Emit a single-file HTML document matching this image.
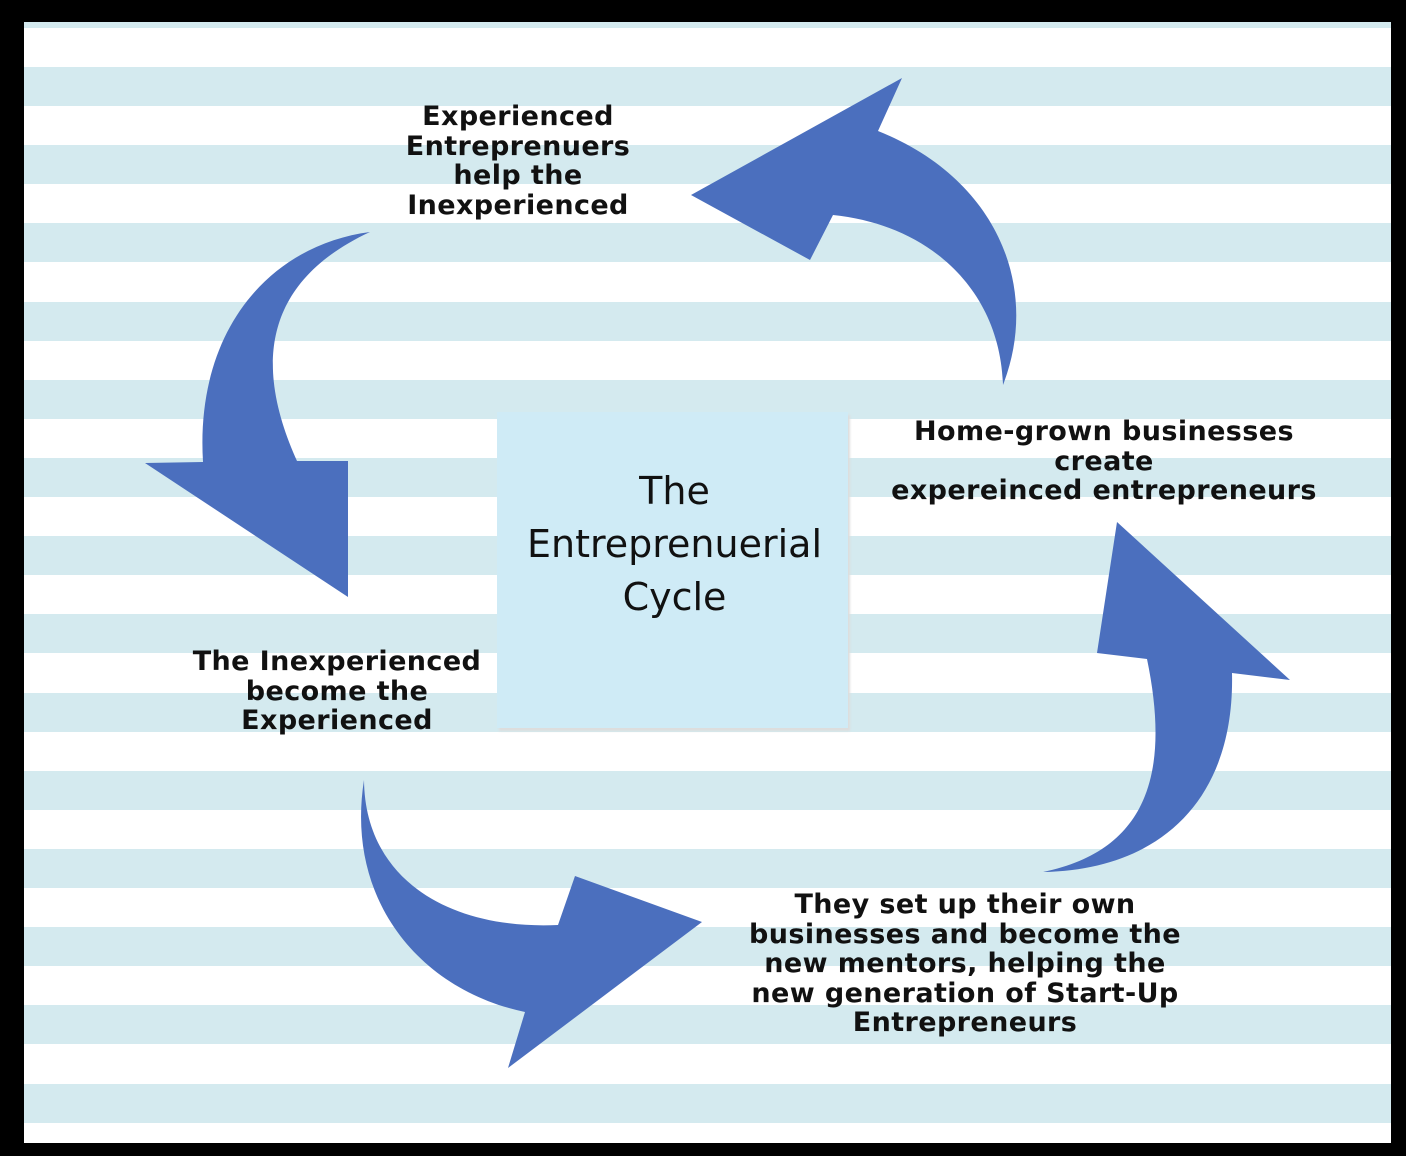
<!DOCTYPE html>
<html><head><meta charset="utf-8"><style>
html,body{margin:0;padding:0;background:#000;}
#c{position:relative;width:1406px;height:1156px;background:#000;overflow:hidden;}
#in{position:absolute;left:24px;top:22px;width:1367px;height:1121px;background:#fff;overflow:hidden;}
.s{position:absolute;left:0;width:1367px;height:39px;background:#d4eaef;}
.box{position:absolute;left:497px;top:412px;width:351px;height:316px;background:#cfebf6;box-shadow:2px 3px 2px #ddd;}
.bt{position:absolute;left:497px;top:465px;width:355px;text-align:center;font-family:"DejaVu Sans","Liberation Sans",sans-serif;font-size:38px;line-height:53px;color:#111;}
.l{position:absolute;font-family:"DejaVu Sans","Liberation Sans",sans-serif;font-weight:bold;font-size:27px;letter-spacing:0.4px;line-height:29.6px;text-align:center;color:#111;white-space:nowrap;}
svg{position:absolute;left:0;top:0;}
</style></head><body><div id="c">
<div id="in">
<div class="s" style="top:0;height:6px"></div>
<div class="s" style="top:45px"></div>
<div class="s" style="top:123.2px"></div>
<div class="s" style="top:201.4px"></div>
<div class="s" style="top:279.6px"></div>
<div class="s" style="top:357.8px"></div>
<div class="s" style="top:436px"></div>
<div class="s" style="top:514.2px"></div>
<div class="s" style="top:592.4px"></div>
<div class="s" style="top:670.6px"></div>
<div class="s" style="top:748.8px"></div>
<div class="s" style="top:827px"></div>
<div class="s" style="top:905.2px"></div>
<div class="s" style="top:983.4px"></div>
<div class="s" style="top:1061.6px"></div>
</div>
<div class="box"></div>
<div class="bt">The<br>Entreprenuerial<br>Cycle</div>
<svg width="1406" height="1156">
<g fill="#4b6fbe">
<path d="M1003,385 C1040,290 1000,180 878,131 L902,78 L691,195 L810,260 L833,215 C930,225 1000,290 1003,385 Z"/>
<path d="M370,232 C270,245 195,330 203,462 L145,463 L348,597 L348,461 L297,461 C265,390 245,290 370,232 Z"/>
<path d="M364,780 C345,900 420,990 525,1012 L508,1068 L702,922 L575,876 L558,925 C450,930 365,880 364,780 Z"/>
<path d="M1043,872 C1160,870 1235,800 1232,673 L1290,680 L1117,522 L1097,653 L1147,659 C1170,770 1150,850 1043,872 Z"/>
</g></svg>
<div class="l" style="left:318px;width:400px;top:102px;">Experienced<br>Entreprenuers<br>help the<br>Inexperienced</div>
<div class="l" style="left:854px;width:500px;top:417px;">Home-grown businesses<br>create<br>expereinced entrepreneurs</div>
<div class="l" style="left:137px;width:400px;top:647px;">The Inexperienced<br>become the<br>Experienced</div>
<div class="l" style="left:715px;width:500px;top:890px;">They set up their own<br>businesses and become the<br>new mentors, helping the<br>new generation of Start-Up<br>Entrepreneurs</div>
</div></body></html>
